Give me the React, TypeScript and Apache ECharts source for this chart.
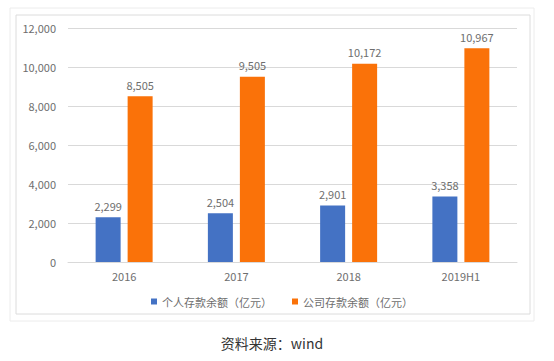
import React, { useEffect, useRef } from "react";
import * as echarts from "echarts";

const categories = ["2016", "2017", "2018", "2019H1"];
const personalDeposits = [2299, 2504, 2901, 3358];
const corporateDeposits = [8505, 9505, 10172, 10967];
const seriesNames = ["个人存款余额（亿元）", "公司存款余额（亿元）"];
const caption = "资料来源：wind";

const FONT = "'Noto Sans CJK SC', 'Noto Sans', sans-serif";
const TEXT = "#6e6e6e";
const fmt = (v: number) => v.toLocaleString("en-US");

export default function App() {
  const ref = useRef<HTMLDivElement>(null);
  useEffect(() => {
    if (!ref.current) return;
    const chart = echarts.init(ref.current, undefined, { renderer: "svg" });
    chart.setOption({
      animation: false,
      backgroundColor: "#ffffff",
      textStyle: { fontFamily: FONT },
      graphic: [
        { type: "rect", shape: { x: 10, y: 8, width: 524, height: 313 }, style: { fill: "none", stroke: "#ececec", lineWidth: 1 } },
        { type: "rect", shape: { x: 16, y: 15, width: 514, height: 299 }, style: { fill: "none", stroke: "#dcdcdc", lineWidth: 1 } },
        { type: "text", x: 272, y: 343, style: { text: caption, fill: "#333333", font: `14px ${FONT}`, textAlign: "center", textVerticalAlign: "middle" } },
      ],
      legend: {
        data: seriesNames,
        left: 146,
        top: 291,
        itemWidth: 6,
        itemHeight: 6,
        itemGap: 20,
        icon: "rect",
        textStyle: { color: TEXT, fontSize: 11, fontFamily: FONT },
      },
      grid: { left: 68, right: 37, top: 28, bottom: 99, containLabel: false },
      xAxis: {
        type: "category",
        data: categories,
        axisLine: { lineStyle: { color: "#d9d9d9" } },
        axisTick: { show: false },
        axisLabel: { color: TEXT, fontSize: 11, margin: 8, fontFamily: FONT },
      },
      yAxis: {
        type: "value",
        min: 0,
        max: 12000,
        interval: 2000,
        axisLine: { show: false },
        axisTick: { show: false },
        splitLine: { lineStyle: { color: "#d9d9d9" } },
        axisLabel: { color: TEXT, fontSize: 11, margin: 12, formatter: (v: number) => fmt(v), fontFamily: FONT },
      },
      series: [
        {
          name: seriesNames[0],
          type: "bar",
          data: personalDeposits,
          barWidth: 25,
          barGap: "28%",
          itemStyle: { color: "#4472C4" },
          label: { show: true, position: "top", distance: 6, color: TEXT, fontSize: 11, formatter: (p: any) => fmt(p.value) },
        },
        {
          name: seriesNames[1],
          type: "bar",
          data: corporateDeposits,
          barWidth: 25,
          itemStyle: { color: "#FA7209" },
          label: { show: true, position: "top", distance: 6, color: TEXT, fontSize: 11, formatter: (p: any) => fmt(p.value) },
        },
      ],
    });
    return () => chart.dispose();
  }, []);
  return <div ref={ref} style={{ position: "absolute", left: 0, top: 0, width: 554, height: 361 }} />;
}
